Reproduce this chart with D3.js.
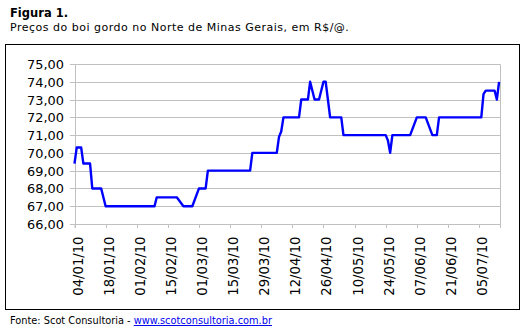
<!DOCTYPE html>
<html>
<head>
<meta charset="utf-8">
<script src="https://cdn.jsdelivr.net/npm/d3@7"></script>
<style>
  body { margin: 0; background: #fff; }
  svg { display: block; }
  text { font-family: "DejaVu Sans", Verdana, sans-serif; }
</style>
</head>
<body>
<svg id="chart" width="532" height="332"></svg>
<script>
// Preço do boi gordo, Norte de Minas Gerais (R$/@), 2010
const dates = [
  "2010-01-04", "2010-01-05", "2010-01-07", "2010-01-08", "2010-01-11", "2010-01-12",
  "2010-01-16", "2010-01-18", "2010-02-09", "2010-02-10", "2010-02-19", "2010-02-22",
  "2010-02-26", "2010-03-01", "2010-03-04", "2010-03-05", "2010-03-24", "2010-03-25",
  "2010-04-05", "2010-04-06", "2010-04-07", "2010-04-08", "2010-04-15", "2010-04-16",
  "2010-04-19", "2010-04-20", "2010-04-22", "2010-04-24", "2010-04-26", "2010-04-27",
  "2010-04-28", "2010-04-29", "2010-05-04", "2010-05-05", "2010-05-24", "2010-05-25",
  "2010-05-26", "2010-05-27", "2010-06-04", "2010-06-07", "2010-06-11", "2010-06-14",
  "2010-06-16", "2010-06-17", "2010-07-06", "2010-07-07", "2010-07-08", "2010-07-12",
  "2010-07-13", "2010-07-14"
];
const prices = [
  69.4, 70.3, 70.3, 69.4, 69.4, 68.0,
  68.0, 67.0, 67.0, 67.5, 67.5, 67.0,
  67.0, 68.0, 68.0, 69.0, 69.0, 70.0,
  70.0, 70.9, 71.2, 72.0, 72.0, 73.0,
  73.0, 74.0, 73.0, 73.0, 74.0, 74.0,
  73.0, 72.0, 72.0, 71.0, 71.0, 70.7,
  70.0, 71.0, 71.0, 72.0, 72.0, 71.0,
  71.0, 72.0, 72.0, 73.3, 73.5, 73.5,
  73.0, 74.0
];
const yTicks = [66, 67, 68, 69, 70, 71, 72, 73, 74, 75];
const xTickDates = [
  "2010-01-04", "2010-01-18", "2010-02-01", "2010-02-15", "2010-03-01", "2010-03-15",
  "2010-03-29", "2010-04-12", "2010-04-26", "2010-05-10", "2010-05-24", "2010-06-07",
  "2010-06-21", "2010-07-05"
];
const xDomain = ["2010-01-04T00:00", "2010-07-14T10:00"];

const parseDay = d3.utcParse("%Y-%m-%d");
const parseStamp = d3.utcParse("%Y-%m-%dT%H:%M");
const series = dates.map((d, i) => ({ date: parseDay(d), value: prices[i] }));

const svg = d3.select("#chart");
const plot = { left: 74.5, right: 500, top: 64, bottom: 224 };

const x = d3.scaleUtc()
  .domain(xDomain.map(parseStamp))
  .range([plot.left, plot.right]);
const y = d3.scaleLinear()
  .domain([66, 75])
  .range([plot.bottom, plot.top]);

const crisp = v => Math.round(v) + 0.5;

// outer frame
svg.append("rect")
  .attr("x", 5.5).attr("y", 44.5)
  .attr("width", 514).attr("height", 265)
  .attr("fill", "none").attr("stroke", "#000").attr("stroke-width", 1);

// titles
svg.append("text")
  .attr("x", 10).attr("y", 16.5)
  .attr("font-size", 11.5).attr("font-weight", "bold")
  .text("Figura 1.");
svg.append("text")
  .attr("x", 10).attr("y", 31)
  .attr("font-size", 11)
  .attr("letter-spacing", 0.5)
  .text("Preços do boi gordo no Norte de Minas Gerais, em R$/@.");

// horizontal gridlines
svg.append("g")
  .selectAll("line")
  .data(yTicks)
  .join("line")
  .attr("x1", plot.left).attr("x2", crisp(plot.right))
  .attr("y1", d => crisp(y(d))).attr("y2", d => crisp(y(d)))
  .attr("stroke", "#c0c0c0").attr("stroke-width", 1);

// right edge of plot area
svg.append("line")
  .attr("x1", crisp(plot.right)).attr("x2", crisp(plot.right))
  .attr("y1", crisp(y(75))).attr("y2", crisp(y(66)))
  .attr("stroke", "#c0c0c0");

// y axis
const yAxis = svg.append("g")
  .attr("transform", `translate(${crisp(plot.left) - 0.5},0)`)
  .call(d3.axisLeft(y)
    .tickValues(yTicks)
    .tickSize(5)
    .tickPadding(6)
    .tickFormat(d => d3.format(".2f")(d).replace(".", ",")));
yAxis.select(".domain").attr("stroke", "#c0c0c0");
yAxis.selectAll(".tick line").attr("stroke", "#c0c0c0");
yAxis.selectAll(".tick").attr("transform", d => `translate(0,${crisp(y(d))})`);
yAxis.selectAll("text")
  .attr("font-family", "DejaVu Sans, Verdana, sans-serif")
  .attr("font-size", 12.9).attr("fill", "#000");

// x axis
const xAxis = svg.append("g")
  .attr("transform", `translate(0,${crisp(plot.bottom) - 0.5})`)
  .call(d3.axisBottom(x)
    .tickValues(xTickDates.map(parseDay))
    .tickSize(4)
    .tickFormat(d3.utcFormat("%d/%m/%y")));
xAxis.select(".domain").attr("stroke", "#c0c0c0");
xAxis.selectAll(".tick line").attr("stroke", "#c0c0c0");
xAxis.selectAll(".tick").attr("transform", d => `translate(${crisp(x(d))},0)`);
xAxis.selectAll("text")
  .attr("font-family", "DejaVu Sans, Verdana, sans-serif")
  .attr("font-size", 13.2).attr("fill", "#000")
  .attr("text-anchor", "end")
  .attr("transform", "translate(2.5,12.5) rotate(-90)")
  .attr("x", 0).attr("y", 0)
  .attr("dy", "0.36em");

// price line
svg.append("path")
  .datum(series)
  .attr("fill", "none")
  .attr("stroke", "#0000ff")
  .attr("stroke-width", 2.4)
  .attr("stroke-linejoin", "round")
  .attr("d", d3.line().x(d => x(d.date)).y(d => y(d.value)));

// source note
const note = svg.append("text")
  .attr("x", 10).attr("y", 324)
  .attr("font-size", 9.8);
note.append("tspan").text("Fonte: Scot Consultoria - ");
note.append("tspan")
  .attr("fill", "#0000ee")
  .attr("text-decoration", "underline")
  .text("www.scotconsultoria.com.br");
</script>
</body>
</html>
